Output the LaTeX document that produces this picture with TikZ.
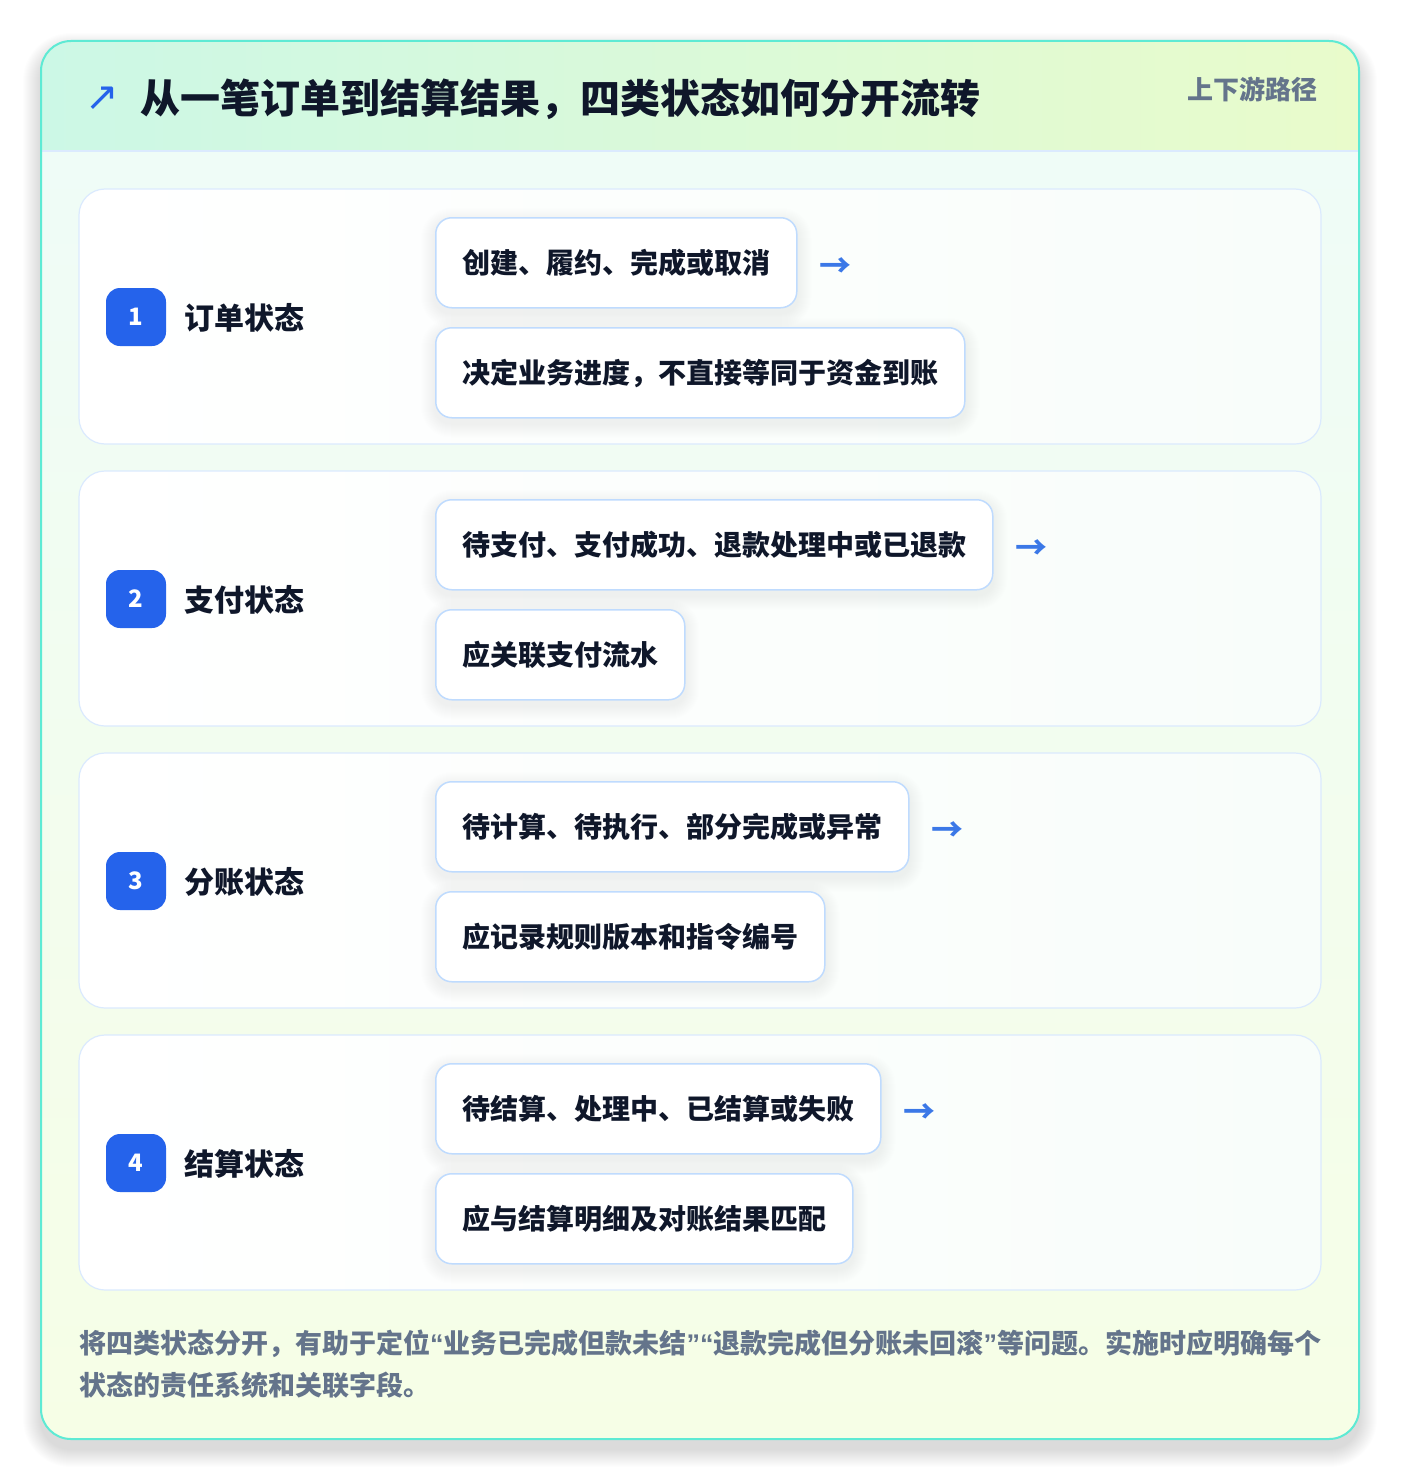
\documentclass[tikz,border=0pt]{standalone}
\usepackage{fontspec}
\setmainfont{Noto Sans CJK SC}
\newfontfamily\djv{DejaVu Sans}
\newfontfamily\qfont{Liberation Sans}
\usetikzlibrary{calc}
\definecolor{ink}{HTML}{0F172A}
\definecolor{badgec}{HTML}{2563EB}
\definecolor{arrowc}{HTML}{3B78E7}
\definecolor{chipb}{HTML}{BFDBFE}
\definecolor{cardb}{HTML}{DBEAFE}
\definecolor{cardr}{HTML}{F8FDFA}
\definecolor{tealb}{HTML}{5EEAD4}
\definecolor{muted}{HTML}{64748B}
\definecolor{hdl}{HTML}{CCF8E6}
\definecolor{hdr}{HTML}{E9FBCB}
\definecolor{bdt}{HTML}{EFFCF7}
\definecolor{bdb}{HTML}{F6FEE6}
\newcommand\oq{{\qfont\bfseries “}}
\newcommand\cq{{\qfont\bfseries ”}}
\pgfdeclarelayer{back}\pgfdeclarelayer{cards}\pgfdeclarelayer{shad}
\pgfsetlayers{back,cards,shad,main}
\begin{document}
\begin{tikzpicture}[x=1pt,y=-1pt,
  titletxt/.style={inner sep=0pt, font=\fontsize{40}{40}\selectfont\bfseries, text=ink, anchor=base west},
  tagtxt/.style={inner sep=0pt, font=\fontsize{26}{26}\selectfont\bfseries, text=muted, anchor=base east},
  rowcard/.style={draw=cardb, line width=1.2pt, left color=white, right color=cardr, rounded corners=26pt, minimum width=1242pt, minimum height=255pt, inner sep=0pt},
  badgebox/.style={fill=badgec, rounded corners=14pt, minimum width=60pt, minimum height=58pt, inner sep=0pt, text=white, font=\fontsize{24}{24}\selectfont\bfseries},
  labtxt/.style={inner sep=0pt, font=\fontsize{30}{30}\selectfont\bfseries, text=ink, anchor=base west},
  chipbox/.style={draw=chipb, line width=1.5pt, fill=white, rounded corners=16pt, minimum height=90pt, inner xsep=26.5pt, inner ysep=0pt, text height=24.6pt, text depth=3.4pt, font=\fontsize{28}{28}\selectfont\bfseries, text=ink, anchor=north west},
  arrowtxt/.style={inner sep=0pt, font=\fontsize{32}{32}\selectfont\bfseries, text=arrowc, anchor=base west},
  foottxt/.style={inner sep=0pt, font=\fontsize{27}{27}\selectfont\bfseries, text=muted, anchor=base west},
]
\useasboundingbox (0,0) rectangle (1400,1482);

\begin{pgfonlayer}{back}
\fill[white] (0,0) rectangle (1400,1482);
\foreach \k in {1,...,18}{
  \fill[black, opacity=0.007, rounded corners={30pt+\k pt}] (41-\k,41-\k+10) rectangle (1359+\k,1439+\k+10);
}
\begin{scope}
  \clip[rounded corners=30pt] (41,41) rectangle (1359,1439);
  \shade[left color=hdl, right color=hdr] (41,41) rectangle (1359,151);
  \shade[top color=bdt, bottom color=bdb] (41,151) rectangle (1359,1439);
\end{scope}
\end{pgfonlayer}
\draw[cardb, line width=1.2pt] (41,151) -- (1359,151);
\draw[tealb, line width=2pt, rounded corners=30pt] (41,41) rectangle (1359,1439);

% header
\node[inner sep=0pt, font=\djv\fontsize{40}{40}\selectfont, text=badgec] (ico) at (102,99) {↗};
\node[titletxt] (title) at (140,114) {从一笔订单到结算结果，四类状态如何分开流转};
\node[tagtxt] (tag) at (1318,99.5) {上下游路径};

% rows
\foreach \i/\lab/\ca/\cb in {
  1/订单状态/创建、履约、完成或取消/决定业务进度，不直接等同于资金到账,
  2/支付状态/待支付、支付成功、退款处理中或已退款/应关联支付流水,
  3/分账状态/待计算、待执行、部分完成或异常/应记录规则版本和指令编号,
  4/结算状态/待结算、处理中、已结算或失败/应与结算明细及对账结果匹配}{
  \pgfmathsetmacro\yt{189+282*(\i-1)}
  \begin{pgfonlayer}{cards}
    \node[rowcard] (row\i) at (700,\yt+127.5) {};
  \end{pgfonlayer}
  \node[badgebox] (badge\i) at (136,\yt+128) {\i};
  \node[labtxt] (lab\i) at (184,\yt+140.5) {\lab};
  \node[chipbox] (chipA\i) at (435,\yt+28) {\ca};
  \node[chipbox] (chipB\i) at (435,\yt+138) {\cb};
  \node[arrowtxt] (arr\i) at ($(chipA\i.east)+(22,15)$) {→};
  \begin{pgfonlayer}{shad}
    \foreach \n in {chipA\i,chipB\i}{
      \foreach \k in {1,...,14}{
        \fill[black, opacity=0.0045, rounded corners={16pt+\k pt}]
          ($(\n.north west)+(-\k,-\k+5)$) rectangle ($(\n.south east)+(\k,\k+5)$);
      }
    }
  \end{pgfonlayer}
}

% footer
\node[foottxt] (foot1) at (79,1353) {将四类状态分开，有助于定位\oq 业务已完成但款未结\cq\oq 退款完成但分账未回滚\cq 等问题。实施时应明确每个};
\node[foottxt] (foot2) at (79,1395) {状态的责任系统和关联字段。};
\end{tikzpicture}
\end{document}
